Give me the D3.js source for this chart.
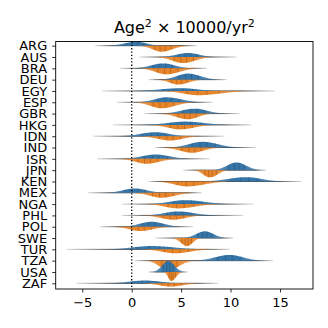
<!DOCTYPE html>
<html>
<head>
<meta charset="utf-8">
<script src="https://cdn.jsdelivr.net/npm/d3@7"></script>
<style>
  body { margin: 0; background: #fff; }
  text { font-family: "DejaVu Sans", sans-serif; }
</style>
</head>
<body>
<div id="chart"></div>
<script>
// countries, one split violin each (blue = top half, orange = bottom half)
var countries = ["ARG","AUS","BRA","DEU","EGY","ESP","GBR","HKG","IDN","IND","ISR",
                 "JPN","KEN","MEX","NGA","PHL","POL","SWE","TUR","TZA","USA","ZAF"];

// full extent of the data (thin centre line)
var lineMin = [-3.7, 0.8, -1.2, 1.7, -3.0, -1.5, 1.3, -1.9, -3.9, 2.4, -3.5,
               5.2, 1.7, -4.4, -1.0, -1.0, -3.2, 2.4, -6.6, 0.3, 1.7, -5.6];
var lineMax = [6.6, 10.6, 7.6, 9.6, 14.5, 8.2, 10.9, 12.1, 9.4, 12.6, 7.9,
               13.6, 17.2, 7.1, 12.3, 11.3, 6.2, 10.3, 9.9, 14.3, 5.7, 8.75];

// blue half: mode, low / high visible edge, peak density
var blueMode = [0.5, 5.7, 3.2, 5.7, 5.05, 3.5, 6.4, 5.4, 2.4, 7.2, 2.4,
                10.6, 11.6, 0.3, 5.4, 4.7, 2.0, 7.4, 2.0, 9.9, 3.7, 1.35];
var blueLo   = [-1.85, 3.4, 0.8, 3.5, 1.0, 1.2, 3.7, 2.0, -0.5, 4.5, -0.3,
                8.75, 8.1, -2.0, 2.4, 2.0, -0.3, 5.7, -1.7, 7.1, 2.5, -1.7];
var blueHi   = [2.4, 7.9, 5.4, 8.1, 8.1, 6.4, 8.75, 9.1, 5.05, 10.1, 5.2,
                12.5, 14.5, 2.7, 9.1, 7.7, 4.4, 9.1, 6.4, 12.5, 4.9, 4.4];
var bluePeak = [0.36, 0.36, 0.45, 0.55, 0.25, 0.45, 0.45, 0.30, 0.36, 0.52, 0.39,
                0.70, 0.39, 0.39, 0.36, 0.36, 0.45, 0.61, 0.30, 0.52, 1.00, 0.25];

// orange half
var orangeMode = [3.0, 5.2, 3.5, 4.7, 6.7, 3.0, 5.7, 4.9, 3.9, 6.1, 1.5,
                  7.9, 5.6, 3.0, 4.7, 4.2, 0.85, 5.6, 4.4, 3.7, 4.0, 3.9];
var orangeLo   = [1.2, 3.0, 1.3, 3.0, 3.7, 0.8, 3.4, 2.4, 1.3, 3.7, -0.7,
                  6.6, 3.0, 0.7, 2.0, 1.7, -1.35, 4.4, 1.7, 2.0, 3.4, 1.7];
var orangeHi   = [5.2, 7.6, 6.1, 6.7, 11.1, 5.7, 7.7, 7.7, 6.4, 8.4, 4.0,
                  9.4, 9.1, 5.7, 8.1, 6.7, 3.4, 6.7, 7.4, 5.7, 4.9, 6.4];
var orangePeak = [0.55, 0.55, 0.55, 0.45, 0.39, 0.55, 0.52, 0.41, 0.39, 0.48, 0.45,
                  0.66, 0.45, 0.45, 0.39, 0.39, 0.39, 0.73, 0.36, 0.90, 0.82, 0.30];

var xTicks = [-5, 0, 5, 10, 15];

var W = 328, H = 328;
var margin = { left: 55.7, right: 15, top: 41.5, bottom: 39 };

var svg = d3.select("#chart").append("svg")
  .attr("width", W).attr("height", H);
var defs = svg.append("defs");

var x = d3.scaleLinear().domain([-7.69, 18.34]).range([margin.left, W - margin.right]);
var y = d3.scalePoint().domain(countries).range([45.7, 283.3]);
// density -> half height in px
var h = d3.scaleLinear().domain([0, 1]).range([0, 11]);

var colors = {
  blue:   { fill: "#3675a8", edge: "#244e6e" },
  orange: { fill: "#e8852a", edge: "#905016" }
};

// skewed bump from mode / edges, evaluated on a grid
function halfShape(i, mode, lo, hi, peak) {
  var sL = Math.max((mode - lo) / 2, 0.05), sR = Math.max((hi - mode) / 2, 0.05);
  var n = 160, a = lineMin[i], b = lineMax[i], pts = [];
  for (var k = 0; k <= n; k++) {
    var v = a + (b - a) * k / n;
    var s = v < mode ? sL : sR;
    var z = (v - mode) / s;
    pts.push([v, peak * Math.exp(-0.5 * z * z)]);
  }
  return pts;
}

function quantiles(pts, ps) {
  var cum = [0];
  for (var k = 1; k < pts.length; k++) {
    cum.push(cum[k - 1] + (pts[k][1] + pts[k - 1][1]) / 2 * (pts[k][0] - pts[k - 1][0]));
  }
  var tot = cum[cum.length - 1];
  return ps.map(function (p) {
    var t = p * tot, k = d3.bisectLeft(cum, t);
    k = Math.max(1, Math.min(k, pts.length - 1));
    var f = (t - cum[k - 1]) / ((cum[k] - cum[k - 1]) || 1);
    var v = pts[k - 1][0] + f * (pts[k][0] - pts[k - 1][0]);
    var d = pts[k - 1][1] + f * (pts[k][1] - pts[k - 1][1]);
    return [v, d];
  });
}

var plot = svg.append("g");

countries.forEach(function (c, i) {
  var cy = y(c);
  var x0 = x(lineMin[i]), x1 = x(lineMax[i]);

  // centre line, fading at both ends
  var lg = defs.append("linearGradient").attr("id", "ln" + i)
    .attr("gradientUnits", "userSpaceOnUse")
    .attr("x1", x0).attr("x2", x1).attr("y1", 0).attr("y2", 0);
  var inner0 = Math.min(blueLo[i], orangeLo[i]), inner1 = Math.max(blueHi[i], orangeHi[i]);
  var span = lineMax[i] - lineMin[i];
  lg.append("stop").attr("offset", 0).attr("stop-color", "#d8d8d8");
  lg.append("stop").attr("offset", (inner0 - lineMin[i]) / span).attr("stop-color", "#444");
  lg.append("stop").attr("offset", (inner1 - lineMin[i]) / span).attr("stop-color", "#444");
  lg.append("stop").attr("offset", 1).attr("stop-color", "#d8d8d8");

  plot.append("line")
    .attr("x1", x0).attr("x2", x1).attr("y1", cy).attr("y2", cy)
    .attr("stroke", "url(#ln" + i + ")").attr("stroke-width", 1);

  [
    { key: "blue", sign: -1, mode: blueMode[i], lo: blueLo[i], hi: blueHi[i], peak: bluePeak[i] },
    { key: "orange", sign: 1, mode: orangeMode[i], lo: orangeLo[i], hi: orangeHi[i], peak: orangePeak[i] }
  ].forEach(function (s) {
    var pts = halfShape(i, s.mode, s.lo, s.hi, s.peak);
    var col = colors[s.key];
    var gid = "g" + s.key + i;

    // fill fades to nothing towards the tails
    var g = defs.append("linearGradient").attr("id", gid)
      .attr("gradientUnits", "userSpaceOnUse")
      .attr("x1", x0).attr("x2", x1).attr("y1", 0).attr("y2", 0);
    var sL = (s.mode - s.lo) / 2, sR = (s.hi - s.mode) / 2;
    var stops = [
      [lineMin[i], 0],
      [Math.max(lineMin[i], s.lo - sL * 0.6), 0.15],
      [s.lo, 0.75],
      [s.mode - sL * 0.8, 1],
      [s.mode + sR * 0.8, 1],
      [s.hi, 0.75],
      [Math.min(lineMax[i], s.hi + sR * 0.6), 0.15],
      [lineMax[i], 0]
    ];
    stops.forEach(function (st) {
      g.append("stop").attr("offset", Math.max(0, Math.min(1, (st[0] - lineMin[i]) / span)))
        .attr("stop-color", col.fill).attr("stop-opacity", st[1]);
    });

    var area = d3.area()
      .x(function (d) { return x(d[0]); })
      .y0(cy)
      .y1(function (d) { return cy + s.sign * h(d[1]); })
      .curve(d3.curveBasis);

    plot.append("path").datum(pts)
      .attr("d", area)
      .attr("fill", "url(#" + gid + ")");

    // quantile sticks inside the half
    var qs = quantiles(pts, [0.2, 0.4, 0.6, 0.8]);
    plot.selectAll(null).data(qs).enter().append("line")
      .attr("x1", function (d) { return x(d[0]); })
      .attr("x2", function (d) { return x(d[0]); })
      .attr("y1", cy)
      .attr("y2", function (d) { return cy + s.sign * h(d[1]) * 0.97; })
      .attr("stroke", col.edge).attr("stroke-width", 0.6).attr("stroke-opacity", 0.8);
  });
});

// zero reference line
svg.append("line")
  .attr("x1", x(0)).attr("x2", x(0))
  .attr("y1", margin.top).attr("y2", H - margin.bottom)
  .attr("stroke", "#000").attr("stroke-width", 1.3)
  .attr("stroke-dasharray", "1.3,2");

// axes
var xAxis = svg.append("g")
  .attr("transform", "translate(0," + (H - margin.bottom) + ")")
  .call(d3.axisBottom(x).tickValues(xTicks).tickSize(3.5).tickPadding(5)
    .tickFormat(function (d) { return d < 0 ? "\u2212" + Math.abs(d) : d; }));
xAxis.select(".domain").remove();
xAxis.selectAll("text").attr("font-size", "13px").attr("fill", "#000")
  .style("font-family", "DejaVu Sans, sans-serif");
xAxis.selectAll("line").attr("stroke", "#000").attr("stroke-width", 0.8);

var yAxis = svg.append("g")
  .attr("transform", "translate(" + margin.left + ",0)")
  .call(d3.axisLeft(y).tickSize(3.5).tickPadding(5));
yAxis.select(".domain").remove();
yAxis.selectAll("text").attr("font-size", "13px").attr("fill", "#000")
  .style("font-family", "DejaVu Sans, sans-serif");
yAxis.selectAll("line").attr("stroke", "#000").attr("stroke-width", 0.8);

// frame
svg.append("rect")
  .attr("x", margin.left).attr("y", margin.top)
  .attr("width", W - margin.right - margin.left)
  .attr("height", H - margin.bottom - margin.top)
  .attr("fill", "none").attr("stroke", "#000").attr("stroke-width", 0.9);

// title
var title = svg.append("text")
  .attr("x", (margin.left + W - margin.right) / 2).attr("y", 33)
  .attr("text-anchor", "middle").attr("font-size", "16px");
title.append("tspan").text("Age");
title.append("tspan").attr("dy", -6).attr("font-size", "11px").text("2");
title.append("tspan").attr("dy", 6).text(" \u00d7 10000/yr");
title.append("tspan").attr("dy", -6).attr("font-size", "11px").text("2");
</script>
</body>
</html>
